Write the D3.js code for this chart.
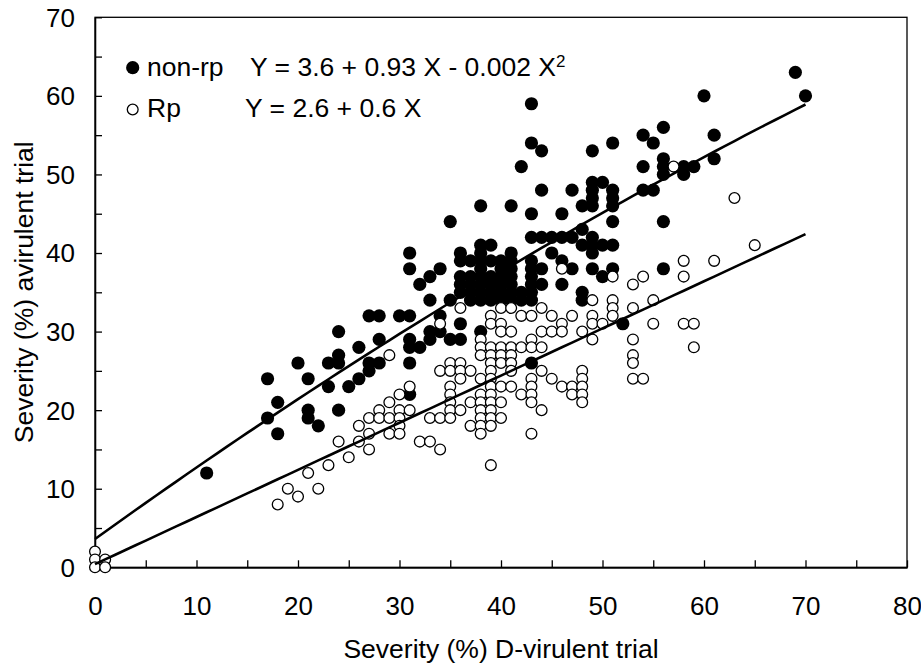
<!DOCTYPE html>
<html>
<head>
<meta charset="utf-8">
<script src="https://cdn.jsdelivr.net/npm/d3@7/dist/d3.min.js"></script>
<style>
  body { margin: 0; background: #fff; }
  svg text { font-family: "Liberation Sans", Arial, sans-serif; fill: #000; }
</style>
</head>
<body>
<svg id="chart" width="921" height="668"></svg>
<script>
// tick values
const xMajor = [0, 10, 20, 30, 40, 50, 60, 70, 80];
const xMinor = [5, 15, 25, 35, 45, 55, 65, 75];
const yMajor = [0, 10, 20, 30, 40, 50, 60, 70];
const yMinor = [5, 15, 25, 35, 45, 55, 65];

// non-rp cultivars (filled), [D-virulent, avirulent]
const nonRp = [
  [11,12],
  [17,24],[17,19],[18,21],[18,17],[20,26],
  [21,24],[21,20],[21,19],[22,18],[23,26],[23,23],
  [24,30],[24,27],[24,26],[24,20],[25,23],[26,28],[26,24],
  [27,32],[27,26],[27,25],[28,32],[28,29],[28,26],[30,32],
  [31,40],[31,38],[31,32],[31,29],[31,28],[31,26],[31,22],
  [32,36],[32,28],[33,37],[33,34],[33,30],[33,29],
  [34,38],[34,32],[34,30],[35,44],[35,34],[35,29],
  [36,40],[36,39],[36,37],[36,36],[36,35],[36,31],[36,29],
  [37,39],[37,37],[37,36],[37,35],[37,34],
  [38,46],[38,41],[38,40],[38,39],[38,38],[38,37],[38,36],[38,35],[38,34],[38,30],
  [39,41],[39,39],[39,37],[39,36],[39,35],[39,34],
  [40,39],[40,38],[40,37],[40,36],[40,35],[40,34],
  [41,46],[41,40],[41,39],[41,38],[41,37],[41,36],[41,35],[41,34],
  [42,51],[42,35],[42,34],
  [43,59],[43,54],[43,45],[43,42],[43,39],[43,38],[43,37],[43,36],[43,35],[43,34],[43,26],
  [44,53],[44,48],[44,42],[44,38],[44,36],
  [45,42],[45,40],[46,45],[46,42],[46,39],[46,36],
  [47,48],[47,42],[47,38],[48,46],[48,43],[48,41],[48,35],[48,34],
  [49,53],[49,49],[49,48],[49,47],[49,46],[49,42],[49,41],[49,40],[49,38],
  [50,49],[50,41],[50,37],
  [51,54],[51,48],[51,47],[51,46],[51,44],[51,41],[51,38],
  [52,31],[54,55],[54,51],[54,48],[55,54],[55,48],
  [56,56],[56,52],[56,51],[56,50],[56,44],[56,38],
  [58,51],[58,50],[59,51],[60,60],[61,55],[61,52],
  [69,63],[70,60]
];

// Rp cultivars (open)
const rp = [
  [0,2],[0,1],[0,0],[1,1],[1,0],
  [18,8],[19,10],[20,9],[21,12],[22,10],[23,13],[24,16],[25,14],
  [26,18],[26,16],[27,19],[27,17],[27,15],[28,20],[28,19],
  [29,27],[29,21],[29,19],[29,17],
  [30,22],[30,20],[30,19],[30,18],[30,17],[31,23],[31,20],
  [32,16],[33,19],[33,16],[34,31],[34,25],[34,19],[34,15],
  [35,26],[35,25],[35,23],[35,22],[35,21],[35,20],[35,19],
  [36,33],[36,26],[36,25],[36,24],[36,20],
  [37,25],[37,21],[37,18],
  [38,29],[38,28],[38,27],[38,24],[38,22],[38,21],[38,20],[38,19],[38,18],[38,17],
  [39,32],[39,31],[39,28],[39,27],[39,26],[39,25],[39,24],[39,23],[39,22],[39,21],[39,20],[39,19],[39,18],[39,13],
  [40,33],[40,31],[40,30],[40,28],[40,27],[40,26],[40,23],[40,21],[40,19],
  [41,33],[41,30],[41,28],[41,27],[41,26],[41,25],[41,23],
  [42,32],[42,28],[42,22],
  [43,32],[43,29],[43,28],[43,24],[43,23],[43,22],[43,21],[43,17],
  [44,33],[44,30],[44,28],[44,25],[44,20],
  [45,32],[45,30],[45,24],[46,38],[46,31],[46,30],[46,23],
  [47,32],[47,23],[47,22],[48,30],[48,25],[48,24],[48,23],[48,22],[48,21],
  [49,34],[49,32],[49,31],[49,29],[50,31],
  [51,37],[51,34],[51,33],[51,32],
  [53,36],[53,33],[53,29],[53,27],[53,26],[53,24],
  [54,37],[54,24],[55,34],[55,31],[57,51],
  [58,39],[58,37],[58,31],[59,31],[59,28],
  [61,39],[63,47],[65,41]
];

// regression curves as drawn (polynomial coefficients, constant first)
const nonRpFit = [3.6, 0.93, -0.002];
const rpFit = [0.4, 0.6];
const fitRange = [0, 70];

const legendLabels = ['non-rp', 'Rp'];
const equations = ['Y = 3.6 + 0.93 X - 0.002 X', 'Y = 2.6 + 0.6 X'];

const svg = d3.select('#chart');
const margin = { top: 17.3, right: 14, bottom: 100.7, left: 95 };
const width = 921 - margin.left - margin.right;
const height = 668 - margin.top - margin.bottom;

const g = svg.append('g').attr('transform', `translate(${margin.left},${margin.top})`);

const x = d3.scaleLinear().domain([0, 80]).range([0, width]);
const y = d3.scaleLinear().domain([0, 70]).range([height, 0]);

// frame
g.append('rect')
  .attr('width', width).attr('height', height)
  .attr('fill', 'none').attr('stroke', '#000').attr('stroke-width', 1.3);

const xAxis = g.append('g')
  .attr('transform', `translate(0,${height})`)
  .call(d3.axisBottom(x).tickValues(xMajor).tickSize(-7).tickSizeOuter(0).tickPadding(29));
g.append('g')
  .attr('transform', `translate(0,${height})`)
  .call(d3.axisBottom(x).tickValues(xMinor).tickSize(-7).tickSizeOuter(0).tickFormat(''));

const yAxis = g.append('g')
  .call(d3.axisLeft(y).tickValues(yMajor).tickSize(-7).tickSizeOuter(0).tickPadding(20));
g.append('g')
  .call(d3.axisLeft(y).tickValues(yMinor).tickSize(-7).tickSizeOuter(0).tickFormat(''));

g.selectAll('.domain').attr('stroke', '#000').attr('stroke-width', 1.3);
g.selectAll('.tick line').attr('stroke', '#000').attr('stroke-width', 1.3);
g.selectAll('.tick text').attr('font-size', 26).attr('font-family', null).attr('fill', '#000');
yAxis.selectAll('.tick text').attr('dy', '0.34em');

// axis titles
svg.append('text')
  .attr('x', margin.left + width / 2).attr('y', 658)
  .attr('text-anchor', 'middle').attr('font-size', 26.5)
  .text('Severity (%) D-virulent trial');
svg.append('text')
  .attr('transform', `translate(33,${margin.top + height / 2}) rotate(-90)`)
  .attr('text-anchor', 'middle').attr('font-size', 26.5)
  .text('Severity (%) avirulent trial');

// points: filled first, open on top
g.selectAll('.nonrp').data(nonRp).enter().append('circle')
  .attr('class', 'nonrp')
  .attr('cx', d => x(d[0])).attr('cy', d => y(d[1]))
  .attr('r', 6.6).attr('fill', '#000');

g.selectAll('.rp').data(rp).enter().append('circle')
  .attr('class', 'rp')
  .attr('cx', d => x(d[0])).attr('cy', d => y(d[1]))
  .attr('r', 5.4).attr('fill', '#fff').attr('stroke', '#000').attr('stroke-width', 1.3);

// fitted curves
const poly = c => v => c.reduce((s, k, i) => s + k * Math.pow(v, i), 0);
const xs = d3.range(fitRange[0], fitRange[1] + 1, 1);
const line = d3.line().x(d => x(d[0])).y(d => y(d[1]));
[nonRpFit, rpFit].forEach(c => {
  const f = poly(c);
  g.append('path')
    .datum(xs.map(v => [v, f(v)]))
    .attr('d', line)
    .attr('fill', 'none').attr('stroke', '#000').attr('stroke-width', 2.6);
});

// legend
const leg = svg.append('g');
leg.append('circle').attr('cx', 132.7).attr('cy', 67.7).attr('r', 6.6).attr('fill', '#000');
leg.append('circle').attr('cx', 132.7).attr('cy', 109.5).attr('r', 5.4)
  .attr('fill', '#fff').attr('stroke', '#000').attr('stroke-width', 1.3);
leg.append('text').attr('x', 147).attr('y', 75.5).attr('font-size', 26.5).text(legendLabels[0]);
leg.append('text').attr('x', 147).attr('y', 117).attr('font-size', 26.5).text(legendLabels[1]);

const eq1 = leg.append('text').attr('x', 250).attr('y', 75.5).attr('font-size', 26.5).text(equations[0]);
eq1.append('tspan').attr('font-size', 17).attr('dy', -9).text('2');
leg.append('text').attr('x', 245).attr('y', 117).attr('font-size', 26.5).text(equations[1]);
</script>
</body>
</html>
